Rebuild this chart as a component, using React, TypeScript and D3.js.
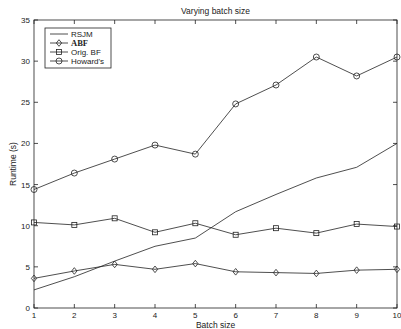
import React from "react";
import * as d3 from "d3";

const batchSizes = [1, 2, 3, 4, 5, 6, 7, 8, 9, 10];
const rsjm = [2.2, 3.8, 5.7, 7.5, 8.5, 11.7, 13.8, 15.8, 17.1, 20.0];
const abf = [3.6, 4.5, 5.3, 4.7, 5.4, 4.4, 4.3, 4.2, 4.6, 4.7];
const origBF = [10.4, 10.1, 10.9, 9.2, 10.3, 8.9, 9.7, 9.1, 10.2, 9.9];
const howards = [14.4, 16.4, 18.1, 19.8, 18.7, 24.8, 27.1, 30.5, 28.2, 30.5];
const yTicks = [0, 5, 10, 15, 20, 25, 30, 35];
const legendLabels = ["RSJM", "ABF", "Orig. BF", "Howard's"];

const W = 401;
const H = 329;
const margin = { top: 20, right: 4, bottom: 21, left: 34 };
const font = "'Liberation Sans', Arial, sans-serif";
const ink = "#222";

const Marker = ({ type, x, y }: { type: string; x: number; y: number }) => {
  if (type === "diamond") {
    const r = 3.3;
    return (
      <path
        d={`M${x},${y - r}L${x + r * 0.8},${y}L${x},${y + r}L${x - r * 0.8},${y}Z`}
        fill="none"
        stroke={ink}
        strokeWidth={0.8}
      />
    );
  }
  if (type === "square") {
    return (
      <rect x={x - 2.5} y={y - 2.5} width={5} height={5} fill="none" stroke={ink} strokeWidth={0.8} />
    );
  }
  if (type === "circle") {
    return <circle cx={x} cy={y} r={3} fill="none" stroke={ink} strokeWidth={0.8} />;
  }
  return null;
};

export default function App() {
  const x = d3
    .scaleLinear()
    .domain([1, 10])
    .range([margin.left, W - margin.right]);
  const y = d3
    .scaleLinear()
    .domain([0, 35])
    .range([H - margin.bottom, margin.top]);

  const series = [
    { name: legendLabels[0], values: rsjm, marker: "none" },
    { name: legendLabels[1], values: abf, marker: "diamond" },
    { name: legendLabels[2], values: origBF, marker: "square" },
    { name: legendLabels[3], values: howards, marker: "circle" },
  ];

  const line = d3
    .line<number>()
    .x((_, i) => x(batchSizes[i]))
    .y((d) => y(d));

  const x0 = x(1);
  const x1 = x(10);
  const y0 = y(0);
  const y1 = y(35);
  const tl = 4;

  return (
    <svg
      width={W}
      height={H}
      style={{ position: "absolute", left: 0, top: 0, background: "#fff" }}
      fontFamily={font}
    >
      <rect x={0} y={0} width={W} height={H} fill="#fff" />
      {/* title */}
      <text x={(x0 + x1) / 2} y={14} textAnchor="middle" fontSize={8.5} fill={ink}>
        Varying batch size
      </text>

      {/* ticks, inward on all four sides */}
      {batchSizes.map((b) => (
        <g key={"xt" + b}>
          <line x1={x(b)} x2={x(b)} y1={y0} y2={y0 - tl} stroke={ink} strokeWidth={0.8} />
          <line x1={x(b)} x2={x(b)} y1={y1} y2={y1 + tl} stroke={ink} strokeWidth={0.8} />
          <text x={x(b)} y={y0 + 10} textAnchor="middle" fontSize={8} fill={ink}>
            {b}
          </text>
        </g>
      ))}
      {yTicks.map((t) => (
        <g key={"yt" + t}>
          <line x1={x0} x2={x0 + tl} y1={y(t)} y2={y(t)} stroke={ink} strokeWidth={0.8} />
          <line x1={x1} x2={x1 - tl} y1={y(t)} y2={y(t)} stroke={ink} strokeWidth={0.8} />
          <text x={x0 - 4} y={y(t) + 3} textAnchor="end" fontSize={8} fill={ink}>
            {t}
          </text>
        </g>
      ))}

      {/* frame */}
      <rect x={x0} y={y1} width={x1 - x0} height={y0 - y1} fill="none" stroke={ink} strokeWidth={0.8} />

      {/* axis labels */}
      <text x={(x0 + x1) / 2} y={H - 1} textAnchor="middle" fontSize={8.5} fill={ink}>
        Batch size
      </text>
      <text
        transform={`translate(16,${(y0 + y1) / 2}) rotate(-90)`}
        textAnchor="middle"
        fontSize={8.5}
        fill={ink}
      >
        Runtime (s)
      </text>

      {/* series */}
      {series.map((s) => (
        <g key={s.name}>
          <path d={line(s.values) || ""} fill="none" stroke={ink} strokeWidth={0.8} />
          {s.values.map((v, i) => (
            <Marker key={i} type={s.marker} x={x(batchSizes[i])} y={y(v)} />
          ))}
        </g>
      ))}

      {/* legend */}
      <g>
        <rect x={45} y={28} width={66} height={40} fill="#fff" stroke={ink} strokeWidth={0.8} />
        {series.map((s, i) => {
          const ly = 34 + i * 9;
          return (
            <g key={"lg" + s.name}>
              <line x1={50} x2={68} y1={ly} y2={ly} stroke={ink} strokeWidth={0.8} />
              <Marker type={s.marker} x={59} y={ly} />
              <text
                x={71}
                y={ly + 3}
                fontSize={i === 1 ? 8.5 : 8}
                fontWeight={i === 1 ? "bold" : "normal"}
                fontFamily={i === 1 ? "'Liberation Serif', 'Times New Roman', serif" : font}
                fill={ink}
              >
                {s.name}
              </text>
            </g>
          );
        })}
      </g>
    </svg>
  );
}
